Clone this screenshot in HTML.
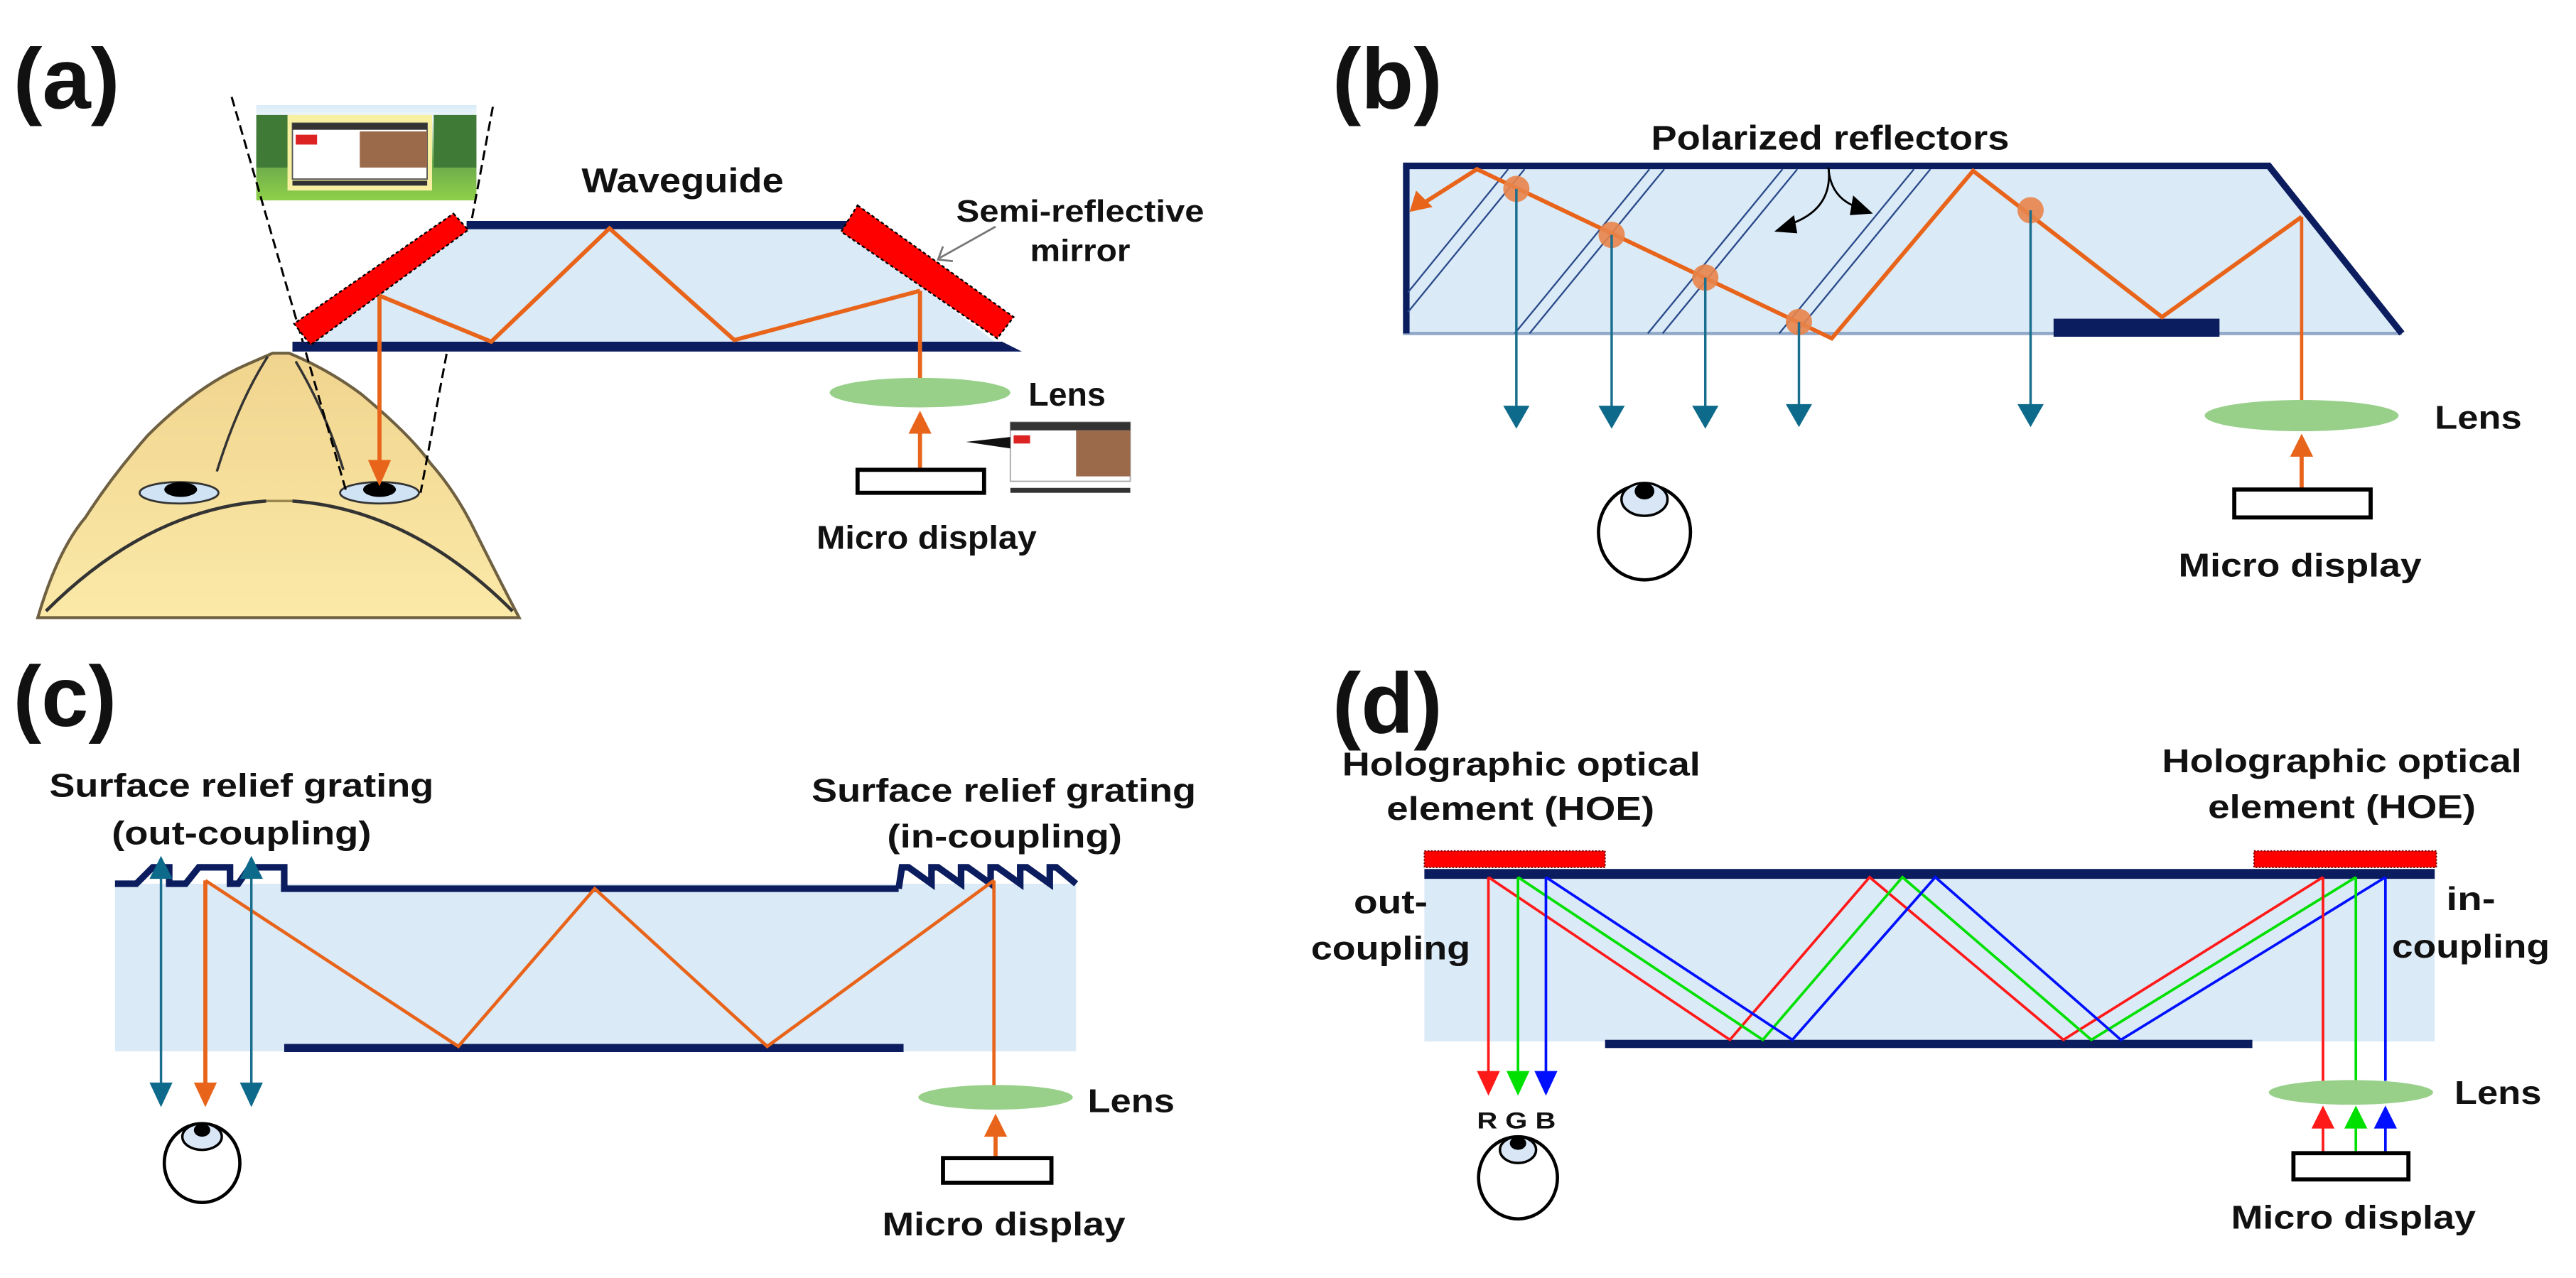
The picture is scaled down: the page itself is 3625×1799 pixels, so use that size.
<!DOCTYPE html>
<html><head><meta charset="utf-8"><style>
html,body{margin:0;padding:0;background:#fff;}
svg{display:block;}
text{font-family:"Liberation Sans",Arial,sans-serif;font-weight:bold;fill:#111;}
</style></head><body>
<svg width="3625" height="1799" viewBox="0 0 1568 778" preserveAspectRatio="none" xmlns="http://www.w3.org/2000/svg">
<defs>
<linearGradient id="sky" x1="0" y1="0" x2="0" y2="1">
<stop offset="0" stop-color="#d8ecf8"/><stop offset="0.15" stop-color="#f4f8fa"/><stop offset="0.6" stop-color="#6aa84a"/><stop offset="1" stop-color="#8fd04a"/>
</linearGradient>
<linearGradient id="skin" x1="0" y1="0" x2="0" y2="1">
<stop offset="0" stop-color="#f0d48e"/><stop offset="1" stop-color="#fbe9a8"/>
</linearGradient>
</defs>
<rect width="1568" height="778" fill="#fff"/>

<!-- ===== (a) ===== -->
<text x="8" y="66" font-size="52" textLength="65" lengthAdjust="spacingAndGlyphs">(a)</text>
<!-- head -->
<path d="M166,215 L176,215 Q200,225 220,240 Q250,265 262,282 Q278,300 290,325 Q305,355 316,376 L23,376 Q35,335 52,315 Q68,290 90,265 Q120,235 150,222 Z" fill="url(#skin)" stroke="#6e6040" stroke-width="1.8"/>
<path d="M162,305 Q90,310 28,372" fill="none" stroke="#333" stroke-width="2"/>
<path d="M178,305 Q250,310 312,372" fill="none" stroke="#333" stroke-width="2"/>
<path d="M162,305 L178,305" stroke="#9c8650" stroke-width="1.5"/>
<path d="M163,217 Q145,245 132,287" fill="none" stroke="#333" stroke-width="1.5"/>
<path d="M180,220 Q198,250 209,286" fill="none" stroke="#333" stroke-width="1.5"/>
<ellipse cx="109" cy="300" rx="24" ry="6.5" fill="#cfe3f5" stroke="#333" stroke-width="1.2"/>
<ellipse cx="110" cy="298" rx="10" ry="4.5" fill="#000"/>
<ellipse cx="231" cy="300" rx="24" ry="6.5" fill="#cfe3f5" stroke="#333" stroke-width="1.2"/>
<ellipse cx="231" cy="298" rx="10" ry="4.5" fill="#000"/>
<!-- thumbnail -->
<rect x="156" y="64" width="134" height="58" fill="url(#sky)"/>
<rect x="156" y="70" width="20" height="32" fill="#3f7a36"/>
<rect x="264" y="70" width="26" height="32" fill="#3f7a36"/>
<rect x="175" y="70" width="88" height="46" fill="#f6f0a0"/>
<rect x="178" y="75" width="82" height="34" fill="#fff" stroke="#555" stroke-width="0.8"/>
<rect x="178" y="75" width="82" height="4" fill="#333"/>
<rect x="219" y="80" width="41" height="22" fill="#9a6a4a"/>
<rect x="180" y="82" width="13" height="6" fill="#d22"/>
<rect x="178" y="110" width="82" height="3" fill="#333"/>
<!-- dashed lines -->
<line x1="141" y1="59" x2="211" y2="300" stroke="#000" stroke-width="1.3" stroke-dasharray="6,3"/>
<line x1="300" y1="65" x2="256" y2="300" stroke="#000" stroke-width="1.3" stroke-dasharray="6,3"/>
<!-- waveguide -->
<polygon points="284,139 515,139 607,209 189,209" fill="#dbeaf7"/>
<line x1="284" y1="137" x2="517" y2="137" stroke="#0b1d5e" stroke-width="5"/>
<polygon points="178,208 610,208 622,214 178,214" fill="#0b1d5e"/>
<polygon points="276,130 285,140 189,210 179,197" fill="#ff0000" stroke="#000" stroke-width="1" stroke-dasharray="2,1.5"/>
<polygon points="522,125 617,193 607,206 512,141" fill="#ff0000" stroke="#000" stroke-width="1" stroke-dasharray="2,1.5"/>
<polyline points="231,180 299,208 371,139 447,207 560,177" fill="none" stroke="#e8641a" stroke-width="2.5"/>
<line x1="560" y1="177" x2="560" y2="231" stroke="#e8641a" stroke-width="2.5"/>
<line x1="231" y1="180" x2="231" y2="282" stroke="#e8641a" stroke-width="2.5"/>
<polygon points="224,280 238,280 231,296" fill="#e8641a"/>
<line x1="560" y1="286" x2="560" y2="262" stroke="#e8641a" stroke-width="2.5"/>
<polygon points="553,264 567,264 560,250" fill="#e8641a"/>
<ellipse cx="560" cy="239" rx="55" ry="9" fill="#98d08a"/>
<rect x="522" y="286" width="77" height="14" fill="#fff" stroke="#000" stroke-width="2.5"/>
<!-- small screen -->
<rect x="615" y="257" width="73" height="36" fill="#fff" stroke="#aaa" stroke-width="0.8"/>
<rect x="615" y="257" width="73" height="5" fill="#333"/>
<rect x="655" y="262" width="33" height="28" fill="#9a6a4a"/>
<rect x="617" y="265" width="10" height="5" fill="#d22"/>
<rect x="615" y="297" width="73" height="3" fill="#333"/>
<polygon points="588,269 615,266 615,273" fill="#111"/>
<line x1="606" y1="138" x2="572" y2="157" stroke="#777" stroke-width="1.2"/>
<polyline points="574,150 571,158 580,159" fill="none" stroke="#777" stroke-width="1.2"/>
<text x="354" y="117" font-size="21" textLength="123" lengthAdjust="spacingAndGlyphs">Waveguide</text>
<text x="582" y="135" font-size="19" textLength="151" lengthAdjust="spacingAndGlyphs">Semi-reflective</text>
<text x="627" y="159" font-size="19" textLength="61" lengthAdjust="spacingAndGlyphs">mirror</text>
<text x="626" y="247" font-size="20" textLength="47" lengthAdjust="spacingAndGlyphs">Lens</text>
<text x="497" y="334" font-size="20" textLength="134" lengthAdjust="spacingAndGlyphs">Micro display</text>

<!-- ===== (b) ===== -->
<text x="811" y="66" font-size="52" textLength="67" lengthAdjust="spacingAndGlyphs">(b)</text>
<polygon points="854,101 1381,101 1462,203 854,203" fill="#dbeaf7"/>
<line x1="854" y1="203" x2="1462" y2="203" stroke="#90a8c8" stroke-width="2"/>
<polyline points="856,203 856,101 1381,101 1462,203" fill="none" stroke="#0b1d5e" stroke-width="4"/>
<rect x="1250" y="194" width="101" height="11" fill="#0b1d5e"/>
<g stroke="#2a4a8a" stroke-width="1">
<line x1="918" y1="103" x2="857" y2="178"/><line x1="928" y1="103" x2="857" y2="190"/>
<line x1="1004" y1="103" x2="922" y2="203"/><line x1="1013" y1="103" x2="931" y2="203"/>
<line x1="1085" y1="103" x2="1003" y2="203"/><line x1="1094" y1="103" x2="1012" y2="203"/>
<line x1="1165" y1="103" x2="1083" y2="203"/><line x1="1175" y1="103" x2="1093" y2="203"/>
</g>
<polyline points="866,124 899,103 1115,206 1201,104 1316,193 1401,132" fill="none" stroke="#e8641a" stroke-width="2.5"/>
<polygon points="858,129 862,116 872,126" fill="#e8641a"/>
<line x1="1401" y1="132" x2="1401" y2="244" stroke="#e8641a" stroke-width="2"/>
<line x1="1401" y1="298" x2="1401" y2="276" stroke="#e8641a" stroke-width="2.5"/>
<polygon points="1394,278 1408,278 1401,264" fill="#e8641a"/>
<g fill="#e8844a" opacity="0.9">
<ellipse cx="923" cy="115" rx="8" ry="8"/><ellipse cx="981" cy="143" rx="8" ry="8"/>
<ellipse cx="1038" cy="169" rx="8" ry="8"/><ellipse cx="1095" cy="196" rx="8" ry="8"/>
<ellipse cx="1236" cy="128" rx="8" ry="8"/>
</g>
<g stroke="#1a6e8e" stroke-width="1.5">
<line x1="923" y1="115" x2="923" y2="250"/><line x1="981" y1="143" x2="981" y2="250"/>
<line x1="1038" y1="169" x2="1038" y2="250"/><line x1="1095" y1="196" x2="1095" y2="250"/>
<line x1="1236" y1="128" x2="1236" y2="250"/>
</g>
<g fill="#0e6a8a">
<polygon points="915,247 931,247 923,261"/><polygon points="973,247 989,247 981,261"/>
<polygon points="1030,247 1046,247 1038,261"/><polygon points="1087,246 1103,246 1095,260"/>
<polygon points="1228,246 1244,246 1236,260"/>
</g>
<path d="M1113,102 Q1116,128 1088,137" fill="none" stroke="#000" stroke-width="1.2"/>
<polygon points="1080,141 1092,131 1094,142" fill="#000"/>
<path d="M1113,102 Q1114,120 1130,126" fill="none" stroke="#000" stroke-width="1.2"/>
<polygon points="1140,130 1128,119 1126,131" fill="#000"/>
<ellipse cx="1401" cy="253" rx="59" ry="9.5" fill="#98d08a"/>
<rect x="1360" y="298" width="83" height="17" fill="#fff" stroke="#000" stroke-width="2.5"/>
<ellipse cx="1001" cy="324" rx="28" ry="29" fill="#fff" stroke="#000" stroke-width="2"/>
<ellipse cx="1001" cy="304" rx="14" ry="10" fill="#d8e6f6" stroke="#000" stroke-width="1.5"/>
<ellipse cx="1001" cy="299" rx="6" ry="5" fill="#000"/>
<text x="1005" y="91" font-size="21" textLength="218" lengthAdjust="spacingAndGlyphs">Polarized reflectors</text>
<text x="1482" y="261" font-size="20" textLength="53" lengthAdjust="spacingAndGlyphs">Lens</text>
<text x="1326" y="351" font-size="20" textLength="148" lengthAdjust="spacingAndGlyphs">Micro display</text>

<!-- ===== (c) ===== -->
<text x="8" y="442" font-size="52" textLength="63" lengthAdjust="spacingAndGlyphs">(c)</text>
<rect x="70" y="538" width="585" height="102" fill="#dbeaf7"/>
<path d="M70,538 L83,538 L93,528 L103,528 L103,538 L113,538 L121,528 L140,528 L140,538 L145,538 L152,528 L173,528 L173,541 L547,541" fill="none" stroke="#0b1d5e" stroke-width="4"/>
<path d="M547,541 L549,528 L553,528 L567,538 L567,528 L571,528 L585,538 L585,528 L589,528 L603,538 L603,528 L607,528 L621,538 L621,528 L625,528 L639,538 L639,528 L643,528 L655,538" fill="none" stroke="#0b1d5e" stroke-width="4"/>
<line x1="173" y1="638" x2="550" y2="638" stroke="#0b1d5e" stroke-width="5"/>
<polyline points="125,536 279,637 362,541 467,637 605,536" fill="none" stroke="#e8641a" stroke-width="2"/>
<line x1="605" y1="536" x2="605" y2="662" stroke="#e8641a" stroke-width="2"/>
<line x1="125" y1="536" x2="125" y2="660" stroke="#e8641a" stroke-width="2.5"/>
<polygon points="118,659 132,659 125,674" fill="#e8641a"/>
<line x1="606" y1="704" x2="606" y2="690" stroke="#e8641a" stroke-width="2.5"/>
<polygon points="599,692 613,692 606,678" fill="#e8641a"/>
<g stroke="#1a6e8e" stroke-width="1.5">
<line x1="98" y1="532" x2="98" y2="662"/><line x1="153" y1="532" x2="153" y2="662"/>
</g>
<g fill="#0e6a8a">
<polygon points="91,535 105,535 98,521"/><polygon points="146,535 160,535 153,521"/>
<polygon points="91,659 105,659 98,674"/><polygon points="146,659 160,659 153,674"/>
</g>
<ellipse cx="606" cy="668" rx="47" ry="7.5" fill="#98d08a"/>
<rect x="574" y="705" width="66" height="15" fill="#fff" stroke="#000" stroke-width="2.5"/>
<ellipse cx="123" cy="708" rx="23" ry="24" fill="#fff" stroke="#000" stroke-width="2"/>
<ellipse cx="123" cy="692" rx="12" ry="8" fill="#d8e6f6" stroke="#000" stroke-width="1.5"/>
<ellipse cx="123" cy="688" rx="5" ry="4" fill="#000"/>
<text x="30" y="485" font-size="20" textLength="234" lengthAdjust="spacingAndGlyphs">Surface relief grating</text>
<text x="68" y="514" font-size="20" textLength="158" lengthAdjust="spacingAndGlyphs">(out-coupling)</text>
<text x="494" y="488" font-size="20" textLength="234" lengthAdjust="spacingAndGlyphs">Surface relief grating</text>
<text x="540" y="516" font-size="20" textLength="143" lengthAdjust="spacingAndGlyphs">(in-coupling)</text>
<text x="662" y="677" font-size="20" textLength="53" lengthAdjust="spacingAndGlyphs">Lens</text>
<text x="537" y="752" font-size="20" textLength="148" lengthAdjust="spacingAndGlyphs">Micro display</text>

<!-- ===== (d) ===== -->
<text x="811" y="446" font-size="52" textLength="67" lengthAdjust="spacingAndGlyphs">(d)</text>
<rect x="867" y="534" width="615" height="100" fill="#dbeaf7"/>
<rect x="867" y="529" width="615" height="6" fill="#0b1d5e"/>
<rect x="977" y="633" width="394" height="5" fill="#0b1d5e"/>
<rect x="867" y="518" width="110" height="10" fill="#ff0000" stroke="#600" stroke-width="0.8" stroke-dasharray="1,1"/>
<rect x="1372" y="518" width="111" height="10" fill="#ff0000" stroke="#600" stroke-width="0.8" stroke-dasharray="1,1"/>
<polyline points="906,534 1053,633 1138,534 1256,633 1414,534" fill="none" stroke="#ff1a1a" stroke-width="1.6"/>
<polyline points="924,534 1073,633 1158,534 1273,633 1434,534" fill="none" stroke="#00e000" stroke-width="1.6"/>
<polyline points="941,534 1091,633 1178,534 1291,633 1452,534" fill="none" stroke="#0010ff" stroke-width="1.6"/>
<line x1="906" y1="534" x2="906" y2="655" stroke="#ff1a1a" stroke-width="1.6"/>
<line x1="924" y1="534" x2="924" y2="655" stroke="#00e000" stroke-width="1.6"/>
<line x1="941" y1="534" x2="941" y2="655" stroke="#0010ff" stroke-width="1.6"/>
<polygon points="899,652 913,652 906,667" fill="#ff1a1a"/>
<polygon points="917,652 931,652 924,667" fill="#00e000"/>
<polygon points="934,652 948,652 941,667" fill="#0010ff"/>
<line x1="1414" y1="534" x2="1414" y2="658" stroke="#ff1a1a" stroke-width="1.6"/>
<line x1="1434" y1="534" x2="1434" y2="658" stroke="#00e000" stroke-width="1.6"/>
<line x1="1452" y1="534" x2="1452" y2="658" stroke="#0010ff" stroke-width="1.6"/>
<ellipse cx="1431" cy="665" rx="50" ry="7.5" fill="#98d08a"/>
<line x1="1414" y1="702" x2="1414" y2="684" stroke="#ff1a1a" stroke-width="1.6"/>
<line x1="1434" y1="702" x2="1434" y2="684" stroke="#00e000" stroke-width="1.6"/>
<line x1="1452" y1="702" x2="1452" y2="684" stroke="#0010ff" stroke-width="1.6"/>
<polygon points="1407,687 1421,687 1414,673" fill="#ff1a1a"/>
<polygon points="1427,687 1441,687 1434,673" fill="#00e000"/>
<polygon points="1445,687 1459,687 1452,673" fill="#0010ff"/>
<rect x="1396" y="702" width="70" height="16" fill="#fff" stroke="#000" stroke-width="2.5"/>
<ellipse cx="924" cy="717" rx="24" ry="25" fill="#fff" stroke="#000" stroke-width="2"/>
<ellipse cx="924" cy="700" rx="11" ry="8" fill="#d8e6f6" stroke="#000" stroke-width="1.5"/>
<ellipse cx="924" cy="696" rx="5" ry="4" fill="#000"/>
<text x="817" y="472" font-size="20" textLength="218" lengthAdjust="spacingAndGlyphs">Holographic optical</text>
<text x="844" y="499" font-size="20" textLength="163" lengthAdjust="spacingAndGlyphs">element (HOE)</text>
<text x="1316" y="470" font-size="20" textLength="219" lengthAdjust="spacingAndGlyphs">Holographic optical</text>
<text x="1344" y="498" font-size="20" textLength="163" lengthAdjust="spacingAndGlyphs">element (HOE)</text>
<text x="824" y="556" font-size="20" textLength="45" lengthAdjust="spacingAndGlyphs">out-</text>
<text x="798" y="584" font-size="20" textLength="97" lengthAdjust="spacingAndGlyphs">coupling</text>
<text x="1489" y="554" font-size="20" textLength="30" lengthAdjust="spacingAndGlyphs">in-</text>
<text x="1456" y="583" font-size="20" textLength="96" lengthAdjust="spacingAndGlyphs">coupling</text>
<text x="899" y="687" font-size="14" textLength="48" lengthAdjust="spacingAndGlyphs">R G B</text>
<text x="1494" y="672" font-size="20" textLength="53" lengthAdjust="spacingAndGlyphs">Lens</text>
<text x="1358" y="748" font-size="20" textLength="149" lengthAdjust="spacingAndGlyphs">Micro display</text>
</svg>
</body></html>
